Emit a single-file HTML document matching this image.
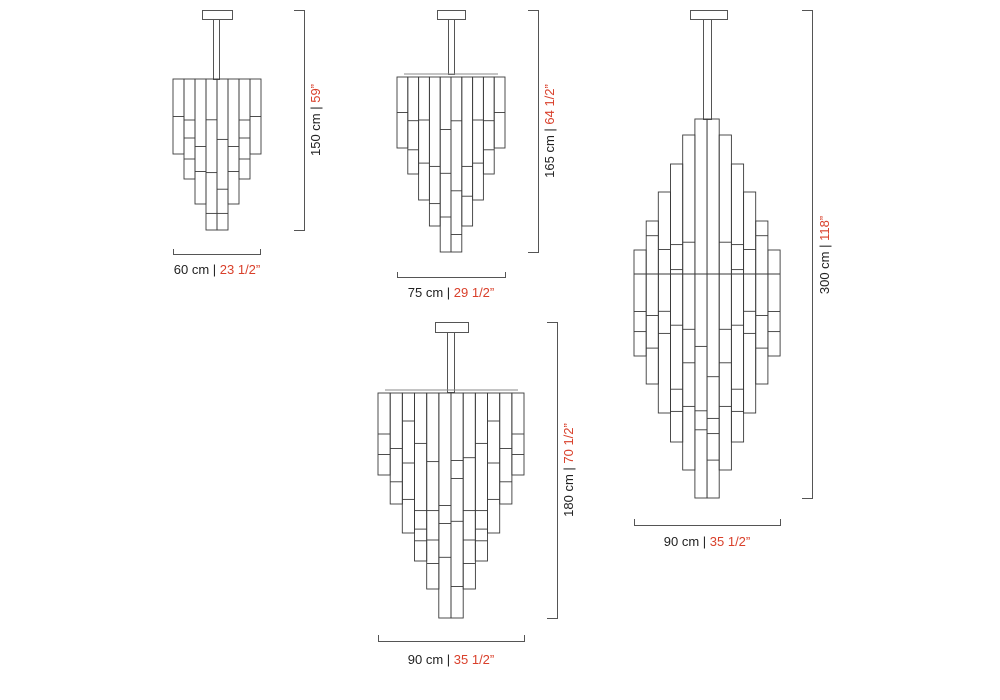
<!DOCTYPE html>
<html><head><meta charset="utf-8"><style>
html,body{margin:0;padding:0;background:#fff;width:1000px;height:700px;overflow:hidden}
svg{display:block}
text{font-family:"Liberation Sans",sans-serif;font-size:13px;fill:#222}
.r{fill:#d9402b}
</style></head><body>
<svg id="s" width="1000" height="700" viewBox="0 0 1000 700">
<g fill="none" stroke="#555" stroke-width="1">
<rect x="202.5" y="10.5" width="30" height="9"/><rect x="213.5" y="19.5" width="6" height="60"/>
<rect x="437.5" y="10.5" width="28" height="9"/><rect x="448.5" y="19.5" width="6" height="55"/>
<rect x="435.5" y="322.5" width="33" height="10"/><rect x="447.5" y="332.5" width="7" height="60"/>
<rect x="690.5" y="10.5" width="37" height="9"/><rect x="703.5" y="19.5" width="8" height="100"/>
<path d="M294 10.5H304.5V230.5H294M173.5 249V254.5H260.5V249"/>
<path d="M528 10.5H538.5V252.5H528M397.5 272V277.5H505.5V272"/>
<path d="M547 322.5H557.5V618.5H547M378.5 635V641.5H524.5V635"/>
<path d="M802 10.5H812.5V498.5H802M634.5 519V525.5H780.5V519"/>
<path d="M404 74H498M385 390H518" stroke="#888"/>
</g>
<g id="c" fill="none" stroke="#3a3a3a" stroke-width="0.9"></g>
<text x="217" y="274" text-anchor="middle">60 cm | <tspan class="r">23 1/2”</tspan></text>
<text x="451" y="297" text-anchor="middle">75 cm | <tspan class="r">29 1/2”</tspan></text>
<text x="451" y="664" text-anchor="middle">90 cm | <tspan class="r">35 1/2”</tspan></text>
<text x="707" y="546" text-anchor="middle">90 cm | <tspan class="r">35 1/2”</tspan></text>
<text transform="translate(320,120) rotate(-90)" text-anchor="middle">150 cm | <tspan class="r">59”</tspan></text>
<text transform="translate(554,131) rotate(-90)" text-anchor="middle">165 cm | <tspan class="r">64 1/2”</tspan></text>
<text transform="translate(573,470) rotate(-90)" text-anchor="middle">180 cm | <tspan class="r">70 1/2”</tspan></text>
<text transform="translate(829,255) rotate(-90)" text-anchor="middle">300 cm | <tspan class="r">118”</tspan></text>
</svg>
<script>
var g=document.getElementById('c'),out='';
function R(x,y,w,h){out+='<rect x="'+x.toFixed(1)+'" y="'+y.toFixed(1)+'" width="'+w.toFixed(1)+'" height="'+h.toFixed(1)+'"/>';}
function L(x,y,w){out+='<line x1="'+x.toFixed(1)+'" y1="'+y.toFixed(1)+'" x2="'+(x+w).toFixed(1)+'" y2="'+y.toFixed(1)+'"/>';}
function chand(x0,x1,top,bots,splits){
 var n=bots.length,w=(x1-x0)/n;
 for(var i=0;i<n;i++){var x=x0+i*w;R(x,top,w,bots[i]-top);
  var s=splits[i%splits.length];for(var j=0;j<s.length;j++)L(x,top+(bots[i]-top)*s[j],w);}
}
chand(173,261,79,[154,179,204,230,230,204,179,154],[[.5],[.41,.59,.8],[.54,.74],[.27,.62,.89],[.4,.73,.89],[.54,.74],[.41,.59,.8],[.5]]);
chand(397,505,77,[148,174,200,226,252,252,226,200,174,148],[[.5],[.45,.75],[.35,.7],[.6,.85],[.3,.55,.8],[.25,.65,.9],[.6,.8],[.35,.7],[.45,.75],[.5]]);
chand(378,524,393,[475,504,533,561,589,618,618,589,561,533,504,475],[[.5,.75],[.5,.8],[.2,.5,.76],[.3,.7,.81,.88],[.35,.6,.75,.87],[.5,.73,.58],[.3,.38,.57,.86],[.33,.6,.75,.87],[.3,.7,.81,.88],[.2,.5,.76],[.5,.8],[.5,.75]]);
var x0=634,w=12.17,tops=[250,221,192,164,135,119,119,135,164,192,221,250],bots=[356,384,413,442,470,498,498,470,442,413,384,356];
var sp=[[.58,.77],[.09,.58,.78],[.26,.54,.64],[.29,.38,.58,.81,.89],[.32,.58,.68,.81],[.6,.77,.82],[.68,.79,.83,.9],[.32,.58,.68,.81],[.29,.38,.58,.81,.89],[.26,.54,.64],[.09,.58,.78],[.58,.77]];
for(var i=0;i<12;i++){var t=tops[i],b=bots[i],x=x0+i*w;R(x,t,w,b-t);for(var j=0;j<sp[i].length;j++)L(x,t+(b-t)*sp[i][j],w);}
out+='<line x1="634" y1="274" x2="780" y2="274"/>';
g.innerHTML=out;
</script>
</body></html>
